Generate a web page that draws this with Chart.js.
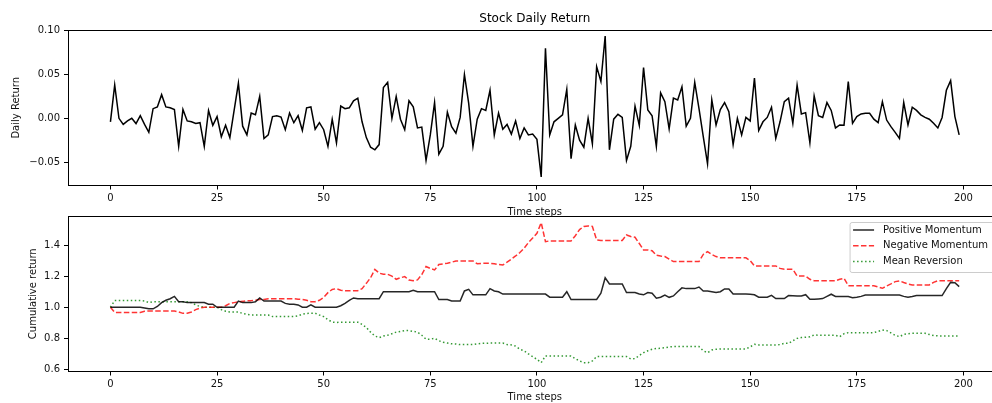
<!DOCTYPE html>
<html>
<head>
<meta charset="utf-8">
<script src="https://cdn.jsdelivr.net/npm/chart.js@4.4.1/dist/chart.umd.min.js"></script>
<style>
  html, body { margin: 0; padding: 0; background: #fff; overflow: hidden; }
  #wrap { position: relative; width: 992px; height: 403px; overflow: hidden; background: #fff; }
  canvas { position: absolute; left: 0; }
  #top-chart { top: 0; width: 1010px; height: 218px; }
  #bottom-chart { top: 200px; width: 1010px; height: 203px; }
</style>
</head>
<body>
<div id="wrap">
  <canvas id="top-chart" width="1010" height="218"></canvas>
  <canvas id="bottom-chart" width="1010" height="203"></canvas>
</div>
<script>
// daily return of the stock, one value per time step
const dailyReturn = [
  -0.004, 0.038, 0.000, -0.007, -0.003, 0.000, -0.006, 0.003, -0.007, -0.016,
  0.011, 0.013, 0.027, 0.013, 0.012, 0.010, -0.032, 0.010, -0.003, -0.004,
  -0.006, -0.005, -0.032, 0.009, -0.008, 0.002, -0.021, -0.008, -0.022, 0.009,
  0.040, -0.009, -0.019, 0.006, 0.004, 0.025, -0.023, -0.019, 0.002, 0.003,
  0.0015, -0.013, 0.006, -0.005, 0.003, -0.014, 0.012, 0.013, -0.0125, -0.005,
  -0.013, -0.032, -0.001, -0.028, 0.014, 0.011, 0.012, 0.020, 0.023, -0.004,
  -0.022, -0.033, -0.036, -0.030, 0.035, 0.041, 0.000, 0.025, -0.001, -0.013,
  0.020, 0.013, -0.011, -0.010, -0.048, -0.019, 0.018, -0.041, -0.032, 0.007,
  -0.0095, -0.017, 0.001, 0.050, 0.017, -0.032, -0.001, 0.011, 0.009, 0.032,
  -0.019, 0.006, -0.0125, -0.007, -0.018, -0.003, -0.023, -0.011, -0.019, -0.018,
  -0.024, -0.067, 0.080, -0.019, -0.004, 0.000, 0.004, 0.033, -0.046, -0.0076,
  -0.025, -0.033, 0.000, -0.029, 0.059, 0.042, 0.094, -0.036, -0.001, 0.0046,
  0.001, -0.048, -0.032, 0.014, -0.008, 0.058, 0.0095, 0.003, -0.032, 0.029,
  0.019, -0.012, 0.023, 0.021, 0.036, -0.009, 0.000, 0.041, 0.011, -0.021,
  -0.052, 0.021, -0.0076, 0.010, 0.018, 0.0076, -0.030, 0.000, -0.019, 0.001,
  -0.003, 0.046, -0.014, -0.004, 0.001, 0.0126, -0.023, -0.004, 0.019, 0.023,
  -0.0057, 0.038, 0.005, 0.0065, -0.028, 0.0255, 0.003, 0.001, 0.018, 0.009,
  -0.011, -0.0076, -0.008, 0.042, -0.0057, 0.002, 0.005, 0.0057, 0.0057, -0.001,
  -0.005, 0.019, -0.002, -0.0095, -0.016, -0.023, 0.018, -0.0076, 0.0126, 0.009,
  0.004, 0.001, -0.001, -0.0057, -0.011, 0.001, 0.032, 0.043, 0.002, -0.019
];

// cumulative return of the three strategies
const positiveMomentum = [
  1.00, 1.00, 1.00, 1.00, 1.00, 1.00, 1.00, 1.00, 0.995, 0.99,
  0.99, 1.005, 1.03, 1.045, 1.055, 1.07, 1.035, 1.035, 1.03, 1.03,
  1.03, 1.03, 1.03, 1.02, 1.02, 1.00, 1.00, 1.00, 1.00, 1.00,
  1.04, 1.03, 1.03, 1.03, 1.035, 1.06, 1.04, 1.04, 1.04, 1.04,
  1.04, 1.025, 1.02, 1.02, 1.015, 1.00, 1.00, 1.015, 1.00, 1.00,
  1.00, 1.00, 1.00, 1.00, 1.01, 1.025, 1.045, 1.06, 1.055, 1.055,
  1.055, 1.055, 1.055, 1.055, 1.10, 1.10, 1.10, 1.10, 1.10, 1.10,
  1.10, 1.11, 1.10, 1.10, 1.10, 1.10, 1.10, 1.05, 1.05, 1.05,
  1.04, 1.04, 1.04, 1.105, 1.115, 1.08, 1.08, 1.08, 1.08, 1.12,
  1.105, 1.10, 1.085, 1.085, 1.085, 1.085, 1.085, 1.085, 1.085, 1.085,
  1.085, 1.085, 1.085, 1.065, 1.065, 1.065, 1.065, 1.10, 1.05, 1.05,
  1.05, 1.05, 1.05, 1.05, 1.05, 1.09, 1.19, 1.15, 1.15, 1.15,
  1.15, 1.095, 1.095, 1.095, 1.085, 1.08, 1.095, 1.09, 1.058, 1.065,
  1.078, 1.064, 1.073, 1.10, 1.125, 1.12, 1.12, 1.12, 1.13, 1.105,
  1.105, 1.10, 1.095, 1.10, 1.118, 1.118, 1.085, 1.085, 1.085, 1.085,
  1.084, 1.08, 1.065, 1.065, 1.065, 1.077, 1.056, 1.056, 1.056, 1.075,
  1.074, 1.073, 1.073, 1.081, 1.051, 1.052, 1.054, 1.056, 1.07, 1.084,
  1.07, 1.07, 1.07, 1.069, 1.062, 1.065, 1.07, 1.079, 1.079, 1.079,
  1.079, 1.079, 1.079, 1.079, 1.079, 1.079, 1.07, 1.064, 1.069, 1.075,
  1.075, 1.075, 1.075, 1.075, 1.075, 1.075, 1.12, 1.16, 1.158, 1.133
];
const negativeMomentum = [
  1.00, 0.967, 0.967, 0.967, 0.967, 0.967, 0.967, 0.967, 0.975, 0.976,
  0.976, 0.976, 0.976, 0.976, 0.976, 0.976, 0.97, 0.961, 0.962, 0.97,
  0.985, 0.995, 1.00, 1.00, 1.00, 1.00, 1.00, 1.01, 1.025, 1.03,
  1.035, 1.038, 1.042, 1.042, 1.045, 1.05, 1.05, 1.055, 1.055, 1.055,
  1.055, 1.055, 1.055, 1.055, 1.052, 1.05, 1.045, 1.036, 1.036, 1.045,
  1.064, 1.094, 1.115, 1.12, 1.11, 1.107, 1.107, 1.107, 1.107, 1.12,
  1.154, 1.19, 1.244, 1.22, 1.212, 1.212, 1.20, 1.18, 1.19, 1.197,
  1.175, 1.171, 1.176, 1.21, 1.262, 1.25, 1.24, 1.275, 1.279, 1.283,
  1.29, 1.298, 1.298, 1.298, 1.298, 1.298, 1.28, 1.282, 1.283, 1.283,
  1.28, 1.275, 1.272, 1.29, 1.31, 1.33, 1.352, 1.38, 1.416, 1.445,
  1.476, 1.544, 1.422, 1.427, 1.427, 1.427, 1.427, 1.427, 1.427, 1.46,
  1.50, 1.52, 1.523, 1.52, 1.433, 1.43, 1.43, 1.43, 1.43, 1.43,
  1.43, 1.465, 1.455, 1.45, 1.41, 1.369, 1.369, 1.364, 1.335, 1.33,
  1.326, 1.31, 1.294, 1.294, 1.294, 1.294, 1.294, 1.294, 1.294, 1.34,
  1.358, 1.34, 1.326, 1.318, 1.318, 1.318, 1.318, 1.318, 1.318, 1.318,
  1.30, 1.266, 1.266, 1.266, 1.266, 1.266, 1.266, 1.25, 1.244, 1.244,
  1.244, 1.201, 1.201, 1.201, 1.18, 1.171, 1.171, 1.171, 1.171, 1.171,
  1.171, 1.18, 1.186, 1.139, 1.139, 1.139, 1.139, 1.139, 1.139, 1.139,
  1.13, 1.122, 1.137, 1.15, 1.165, 1.17, 1.159, 1.15, 1.144, 1.144,
  1.144, 1.144, 1.144, 1.16, 1.171, 1.171, 1.171, 1.171, 1.171, 1.171
];
const meanReversion = [
  1.00, 1.043, 1.043, 1.043, 1.043, 1.043, 1.043, 1.043, 1.04, 1.03,
  1.036, 1.036, 1.036, 1.036, 1.036, 1.036, 1.036, 1.036, 1.035, 1.03,
  1.015, 1.005, 1.00, 1.00, 1.00, 1.00, 0.985, 0.975, 0.97, 0.97,
  0.97, 0.96, 0.955, 0.95, 0.95, 0.95, 0.95, 0.95, 0.94, 0.94,
  0.94, 0.94, 0.94, 0.94, 0.945, 0.955, 0.96, 0.962, 0.962, 0.95,
  0.94, 0.92, 0.905, 0.902, 0.904, 0.904, 0.904, 0.904, 0.904, 0.89,
  0.87, 0.84, 0.815, 0.805, 0.815, 0.82, 0.83, 0.84, 0.845, 0.85,
  0.85, 0.845, 0.84, 0.82, 0.795, 0.795, 0.80, 0.785, 0.775, 0.77,
  0.765, 0.764, 0.76, 0.76, 0.76, 0.76, 0.765, 0.768, 0.768, 0.77,
  0.77, 0.77, 0.77, 0.76, 0.758, 0.75, 0.73, 0.72, 0.70, 0.683,
  0.665, 0.644, 0.687, 0.687, 0.687, 0.687, 0.687, 0.687, 0.687, 0.67,
  0.655, 0.644, 0.644, 0.655, 0.683, 0.683, 0.683, 0.683, 0.683, 0.683,
  0.683, 0.683, 0.668, 0.67, 0.69, 0.708, 0.72, 0.73, 0.735, 0.736,
  0.74, 0.745, 0.747, 0.747, 0.747, 0.747, 0.747, 0.747, 0.747, 0.72,
  0.708, 0.725, 0.73, 0.732, 0.732, 0.732, 0.732, 0.732, 0.732, 0.732,
  0.745, 0.762, 0.758, 0.758, 0.758, 0.758, 0.758, 0.76, 0.768, 0.768,
  0.785, 0.80, 0.805, 0.807, 0.81, 0.822, 0.82, 0.82, 0.82, 0.82,
  0.82, 0.811, 0.83, 0.837, 0.837, 0.837, 0.837, 0.837, 0.837, 0.837,
  0.845, 0.854, 0.85, 0.835, 0.82, 0.811, 0.825, 0.83, 0.833, 0.833,
  0.833, 0.833, 0.825, 0.818, 0.816, 0.816, 0.816, 0.816, 0.816, 0.816
];

const steps = dailyReturn.map((_, i) => i);
const strategyNames = ['Positive Momentum', 'Negative Momentum', 'Mean Reversion'];

// tick values of the axes
const xTicks = [0, 25, 50, 75, 100, 125, 150, 175, 200];
const returnTicks = [-0.05, 0.00, 0.05, 0.10];
const cumulativeTicks = [0.6, 0.8, 1.0, 1.2, 1.4];

Chart.defaults.font.family = '"DejaVu Sans", sans-serif';
Chart.defaults.font.size = 10;
Chart.defaults.color = '#111';
Chart.defaults.animation = false;

const toPoints = values => values.map((v, i) => ({ x: steps[i], y: v }));
const minusLabel = (v, digits) => {
  if (Math.abs(v) < 1e-9) v = 0;
  return v.toFixed(digits).replace('-', '\u2212');
};
const fixedTicks = values => scale => {
  scale.ticks = values.map(v => ({ value: v }));
};

// draw the box around the plot area
const framePlugin = {
  id: 'frame',
  afterDatasetsDraw(chart) {
    const a = chart.chartArea;
    const ctx = chart.ctx;
    const l = Math.floor(a.left), t = Math.floor(a.top);
    const r = Math.floor(a.right), b = Math.floor(a.bottom);
    ctx.save();
    ctx.strokeStyle = '#000';
    ctx.lineWidth = 1;
    ctx.strokeRect(l + 0.5, t + 0.5, r - l, b - t);
    ctx.restore();
  }
};

// legend box in the upper right corner of the plot
const boxLegendPlugin = {
  id: 'boxLegend',
  afterDraw(chart) {
    const ctx = chart.ctx;
    const a = chart.chartArea;
    const sets = chart.data.datasets;
    ctx.save();
    ctx.font = '10px "DejaVu Sans"';
    const textW = Math.max(...sets.map(d => ctx.measureText(d.label).width));
    const rowH = 15.7;
    const w = textW + 42;
    const h = 50;
    const x = a.right - 5 - w;
    const y = a.top + 6;
    ctx.beginPath();
    ctx.roundRect(x + 0.5, y + 0.5, w, h, 2);
    ctx.fillStyle = 'rgba(255,255,255,0.8)';
    ctx.fill();
    ctx.strokeStyle = '#cccccc';
    ctx.lineWidth = 1;
    ctx.stroke();
    sets.forEach((d, i) => {
      const cy = y + 8 + i * rowH;
      ctx.strokeStyle = d.borderColor;
      ctx.lineWidth = d.borderWidth;
      ctx.setLineDash(d.borderDash || []);
      ctx.beginPath();
      ctx.moveTo(x + 3.5, cy);
      ctx.lineTo(x + 24.5, cy);
      ctx.stroke();
      ctx.setLineDash([]);
      ctx.fillStyle = '#111';
      ctx.textBaseline = 'middle';
      ctx.textAlign = 'left';
      ctx.fillText(d.label, x + 33.5, cy);
    });
    ctx.restore();
  }
};

const tickGrid = { display: true, drawOnChartArea: false, drawTicks: true, tickLength: 4, color: '#000', lineWidth: 1 };

function xScale(height) {
  return {
    type: 'linear',
    min: -9.95,
    max: 208.95,
    grid: tickGrid,
    border: { display: false },
    afterBuildTicks: fixedTicks(xTicks),
    ticks: { padding: 3, maxRotation: 0, autoSkip: false, callback: v => String(v) },
    title: { display: true, text: 'Time steps', padding: { top: 0, bottom: 0 } },
    afterFit: s => { s.height = height; }
  };
}

// top chart: daily return
new Chart(document.getElementById('top-chart'), {
  type: 'line',
  data: {
    datasets: [{
      label: 'Daily Return',
      data: toPoints(dailyReturn),
      borderColor: '#000',
      borderWidth: 1.5,
      pointRadius: 0,
      tension: 0,
      fill: false
    }]
  },
  options: {
    responsive: false,
    devicePixelRatio: 1,
    layout: { padding: { top: 0, left: 0, right: 8.4, bottom: 0 } },
    plugins: {
      legend: { display: false },
      tooltip: { enabled: false },
      title: {
        display: true,
        fullSize: false,
        text: 'Stock Daily Return',
        font: { size: 12, weight: 'normal' },
        color: '#000',
        padding: { top: 12, bottom: 3.6 }
      }
    },
    scales: {
      x: xScale(32.5),
      y: {
        min: -0.0767,
        max: 0.1008,
        grid: tickGrid,
        border: { display: false },
        afterBuildTicks: fixedTicks(returnTicks),
        ticks: { padding: 4, autoSkip: false, callback: v => minusLabel(v, 2) },
        title: { display: true, text: 'Daily Return', padding: { top: 10.5, bottom: 0 } },
        afterFit: s => { s.width = 68; }
      }
    }
  },
  plugins: [framePlugin]
});

// bottom chart: cumulative return of each strategy
new Chart(document.getElementById('bottom-chart'), {
  type: 'line',
  data: {
    datasets: [
      {
        label: strategyNames[0],
        data: toPoints(positiveMomentum),
        borderColor: 'rgba(0,0,0,0.85)',
        borderWidth: 1.5,
        pointRadius: 0,
        tension: 0,
        fill: false
      },
      {
        label: strategyNames[1],
        data: toPoints(negativeMomentum),
        borderColor: 'rgba(255,0,0,0.8)',
        borderDash: [5.5, 2.4],
        borderWidth: 1.5,
        pointRadius: 0,
        tension: 0,
        fill: false
      },
      {
        label: strategyNames[2],
        data: toPoints(meanReversion),
        borderColor: 'rgba(0,128,0,0.8)',
        borderDash: [1.5, 2.5],
        borderWidth: 1.5,
        pointRadius: 0,
        tension: 0,
        fill: false
      }
    ]
  },
  options: {
    responsive: false,
    devicePixelRatio: 1,
    layout: { padding: { top: 16, left: 0, right: 8.4, bottom: 0 } },
    plugins: {
      legend: { display: false },
      tooltip: { enabled: false }
    },
    scales: {
      x: xScale(31.5),
      y: {
        min: 0.587,
        max: 1.587,
        grid: tickGrid,
        border: { display: false },
        afterBuildTicks: fixedTicks(cumulativeTicks),
        ticks: { padding: 4, autoSkip: false, callback: v => minusLabel(v, 1) },
        title: { display: true, text: 'Cumulative return', padding: { top: 27, bottom: 0 } },
        afterFit: s => { s.width = 68; }
      }
    }
  },
  plugins: [framePlugin, boxLegendPlugin]
});
</script>
</body>
</html>
